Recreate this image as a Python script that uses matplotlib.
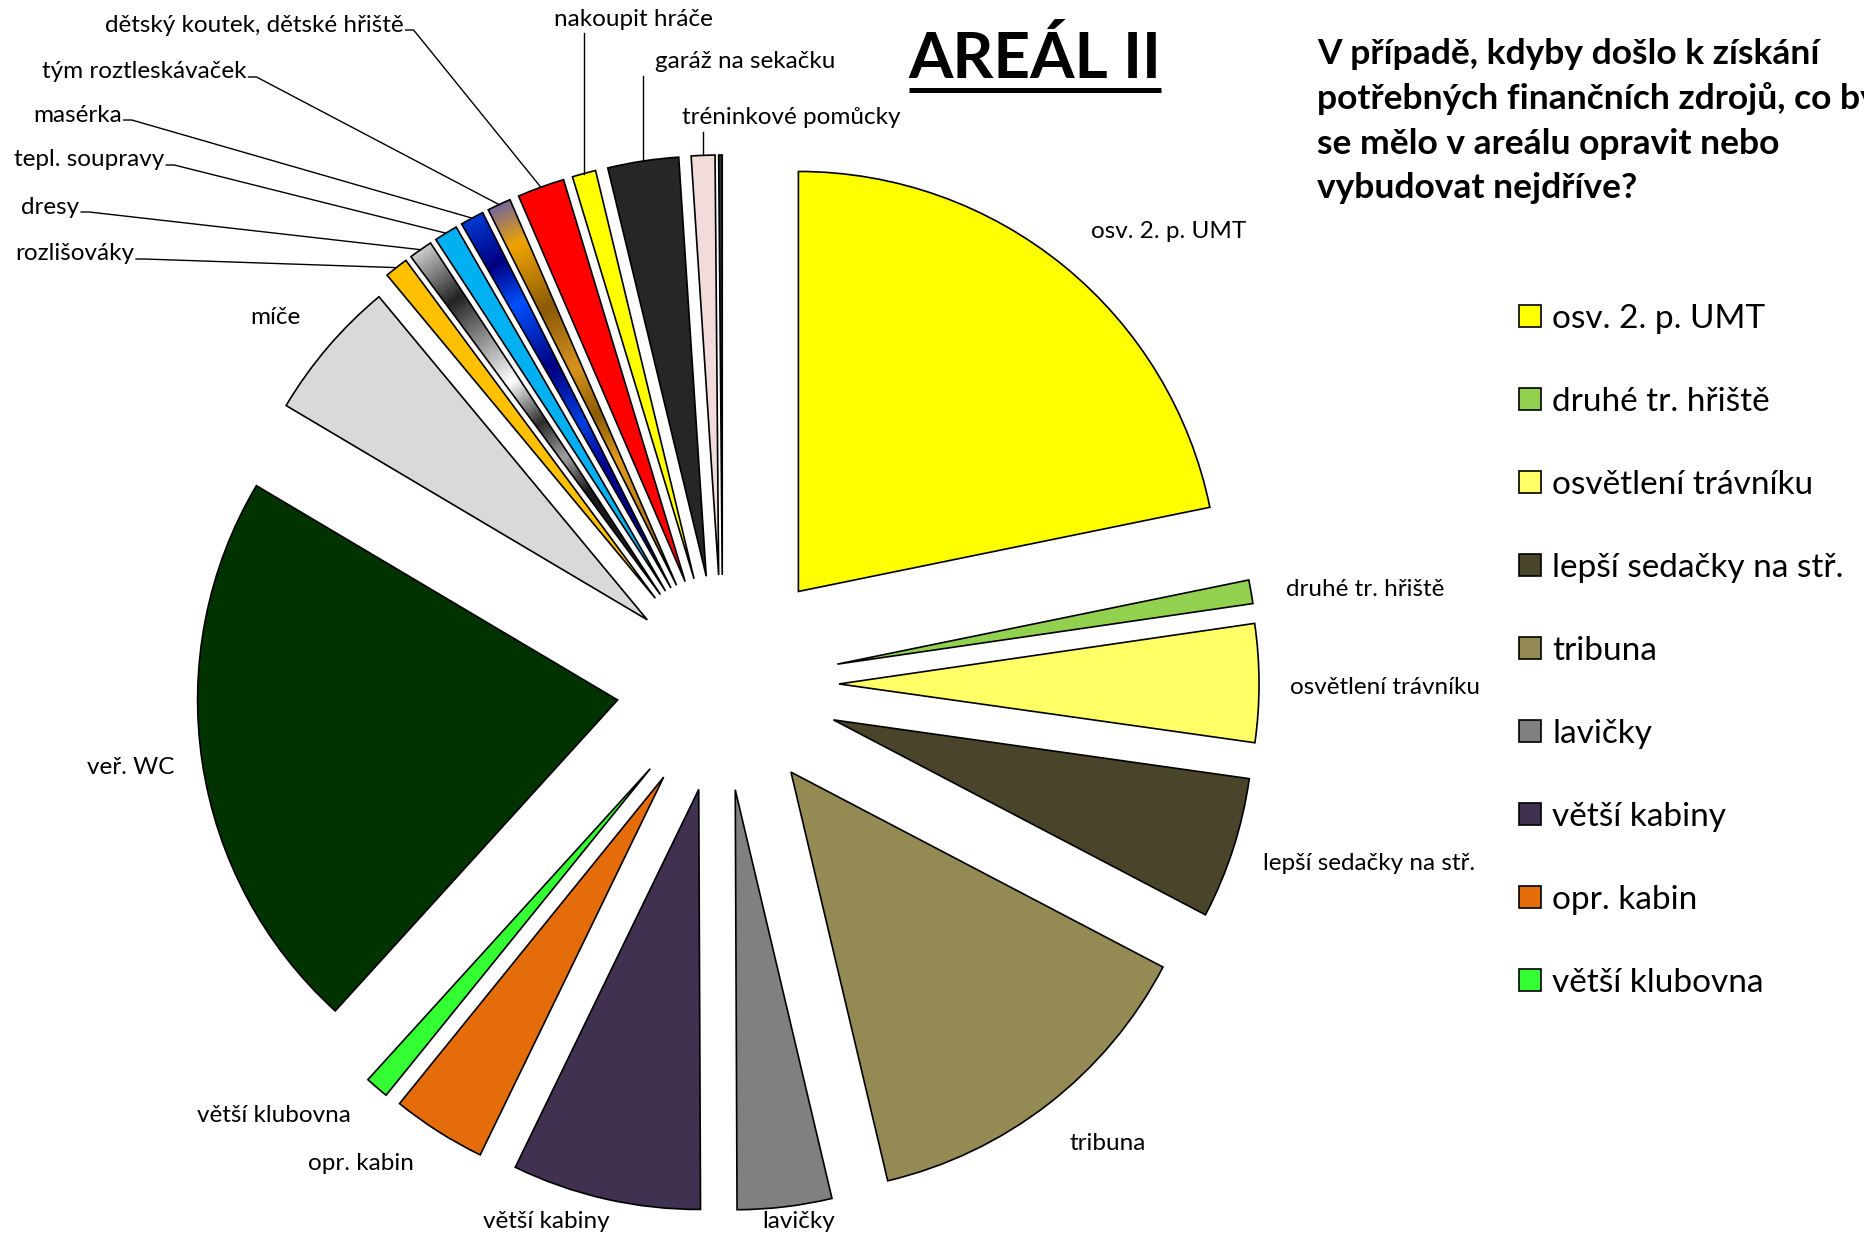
import matplotlib.pyplot as plt
import numpy as np
from matplotlib.colors import LinearSegmentedColormap

plt.rcParams['font.family'] = ['Lato', 'DejaVu Sans']

# survey answers (number of votes), clockwise from the top
categories = ["osv. 2. p. UMT", "druhé tr. hřiště", "osvětlení trávníku",
              "lepší sedačky na stř.", "tribuna", "lavičky", "větší kabiny",
              "opr. kabin", "větší klubovna", "veř. WC", "míče", "rozlišováky",
              "dresy", "tepl. soupravy", "masérka", "tým roztleskávaček",
              "dětský koutek, dětské hřiště", "nakoupit hráče",
              "garáž na sekačku", "tréninkové pomůcky", ""]
votes = [24, 1, 5, 6, 15, 4, 8, 4, 1, 24, 6, 1, 1, 1, 1, 1, 2, 1, 3, 1, 0.15]
colors = ["#FFFF00", "#92D050", "#FFFF66", "#4A452A", "#948A54", "#808080",
          "#403151", "#E46C0A", "#33FF33", "#003300", "#D9D9D9", "#FFC000",
          "#606060", "#00B0F0", "#0030C0", "#A07020", "#FF0000", "#FFFF00",
          "#262626", "#F2DCDB", "#303030"]
explode_frac = [0.285, 0.277, 0.277, 0.277, 0.265, 0.253, 0.257, 0.262, 0.265,
                0.253, 0.236] + [0.26] * 10

title = "AREÁL II"
question = ["V případě, kdyby došlo k získání",
            "potřebných finančních zdrojů, co by",
            "se mělo v areálu opravit nebo",
            "vybudovat nejdříve?"]

# gradient fills (t = 0 at wedge tip, 1 at the rim)
gradients = {
    12: [(0, '#1a1a1a'), (0.3, '#1a1a1a'), (0.4, '#a0a0a0'), (0.5, '#2a2a2a'),
         (0.62, '#ffffff'), (0.75, '#8a8a8a'), (0.86, '#222222'), (1.0, '#c8c8c8')],
    14: [(0, '#000070'), (0.33, '#000090'), (0.45, '#0040e0'), (0.6, '#000080'),
         (0.77, '#0050ff'), (0.88, '#000080'), (1.0, '#0038d0')],
    15: [(0, '#8b5a00'), (0.33, '#e09a20'), (0.45, '#8b5a00'), (0.57, '#d89420'),
         (0.73, '#8b5a0a'), (0.9, '#f0a400'), (1.0, '#7a6a96')],
}

# label layout in pixels (left x, centre y), and leader style
label_pos = [(1091, 231), (1286, 589), (1290, 687), (1263, 864), (1069, 1144),
             (762, 1222), (483, 1222), (308, 1164), (197, 1116), (87, 768),
             (250, 317), (15, 254), (21, 207), (14, 160), (33, 115), (42, 72),
             (105, 25), (554, 19), (655, 62), (682, 118), None]
leader = [None] * 11 + ['side'] * 6 + ['top'] * 3 + [None]

W, H = 1864, 1236
CX, CY, R = 722.7, 684.2, 420

fig = plt.figure(figsize=(W / 100, H / 100), dpi=100)
ax = fig.add_axes([0, 0, 1, 1])

wedges, _ = ax.pie(votes, colors=colors, startangle=-90, counterclock=True,
                   radius=R, center=(CX, CY),
                   explode=[f * R for f in explode_frac],
                   wedgeprops=dict(edgecolor='black', linewidth=1.2))

for i, stops in gradients.items():
    w = wedges[i]
    cx, cy = w.center
    m = np.deg2rad((w.theta1 + w.theta2) / 2)
    xs = np.linspace(cx - R, cx + R, 400)
    ys = np.linspace(cy - R, cy + R, 400)
    X, Y = np.meshgrid(xs, ys)
    T = ((X - cx) * np.cos(m) + (Y - cy) * np.sin(m)) / R
    cmap = LinearSegmentedColormap.from_list('g%d' % i, stops)
    w.set_facecolor('none')
    im = ax.imshow(T, extent=(cx - R, cx + R, cy - R, cy + R), origin='lower',
                   cmap=cmap, vmin=0, vmax=1, interpolation='bilinear', zorder=0.9)
    im.set_clip_path(w)

ax.set_xlim(0, W)
ax.set_ylim(H, 0)
ax.set_aspect('equal')
ax.axis('off')

texts = []
for i, name in enumerate(categories):
    if label_pos[i] is None:
        texts.append(None)
        continue
    x, y = label_pos[i]
    texts.append(ax.text(x, y, name, ha='left', va='center', fontsize=17.5))

t_title = ax.text(1035, 58, title, ha='center', va='center', fontsize=46,
                  fontweight='bold')
for k, line in enumerate(question):
    ax.text(1317, 53.5 + k * 45, line, ha='left', va='center', fontsize=25.5,
            fontweight='bold')

ax.legend(wedges[:9], categories[:9], loc='upper left',
          bbox_to_anchor=(1519, 304), bbox_transform=ax.transData,
          frameon=False, fontsize=24, handlelength=0.65, handleheight=0.65,
          handletextpad=0.35, labelspacing=1.59, borderpad=0, borderaxespad=0)

fig.canvas.draw()
inv = ax.transData.inverted()

# underline of the title
bb = t_title.get_window_extent()
(x0, y0), (x1, y1) = inv.transform([[bb.x0, bb.y0], [bb.x1, bb.y1]])
ax.plot([x0, x1], [90, 90], color='black', lw=3.6, solid_capstyle='butt')

# leader lines from labels to wedge rims
for i, style in enumerate(leader):
    if style is None:
        continue
    w = wedges[i]
    m = np.deg2rad((w.theta1 + w.theta2) / 2)
    px = w.center[0] + R * np.cos(m)
    py = w.center[1] + R * np.sin(m)
    bb = texts[i].get_window_extent()
    (tx0, ty0), (tx1, ty1) = inv.transform([[bb.x0, bb.y0], [bb.x1, bb.y1]])
    if style == 'side':
        sx, sy = tx1 + 2, (ty0 + ty1) / 2 + 5
        ax.plot([sx, sx + 8, px], [sy, sy, py], color='black', lw=1.0)
    else:
        sy = max(ty0, ty1) + 3
        ax.plot([px, px], [sy, py], color='black', lw=1.0)

fig.savefig('out.png', dpi=100)
